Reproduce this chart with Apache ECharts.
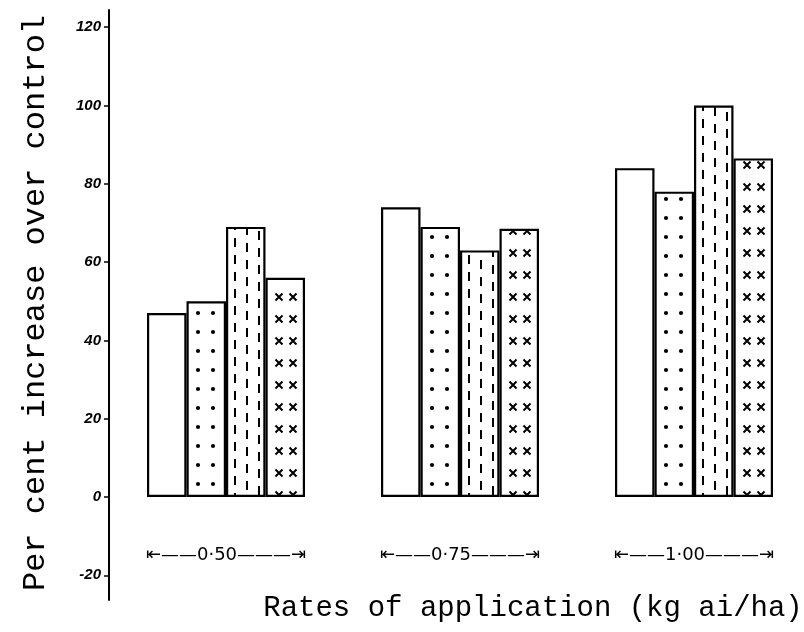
<!DOCTYPE html>
<html><head><meta charset="utf-8">
<script src="https://cdn.jsdelivr.net/npm/echarts@6/dist/echarts.min.js"></script>
<style>html,body{margin:0;padding:0;background:#fff}#c{width:804px;height:632px}</style>
</head><body><div id="c"></div>
<script>
// ---- data ----
var rates = ['0·50', '0·75', '1·00'];
var seriesA = [47, 74, 84];
var seriesB = [50, 69, 78];
var seriesC = [69, 63, 100];
var seriesD = [56, 68.5, 86.5];
var yTicks = [-20, 0, 20, 40, 60, 80, 100, 120];

// ---- fill patterns (tile width = category width so marks sit inside each bar) ----
function tile(w, h, draw) {
  var cv = document.createElement('canvas');
  cv.width = w; cv.height = h;
  var ctx = cv.getContext('2d');
  ctx.fillStyle = '#fff'; ctx.fillRect(0, 0, w, h);
  ctx.fillStyle = '#000'; ctx.strokeStyle = '#000';
  draw(ctx);
  return { image: cv, repeat: 'repeat' };
}
var TW = 234;
var dots = tile(TW, 19, function (c) {
  [198, 213].forEach(function (x) { c.beginPath(); c.arc(x, 9, 2.1, 0, Math.PI * 2); c.fill(); });
});
var dashes = tile(TW, 17, function (c) {
  c.lineWidth = 2;
  [235, 247, 259].forEach(function (x, i) {
    var xx = x % TW;
    var o = i * 5;
    c.beginPath(); c.moveTo(xx, o); c.lineTo(xx, o + 9); c.stroke();
    if (o + 9 > 17) { c.beginPath(); c.moveTo(xx, 0); c.lineTo(xx, o + 9 - 17); c.stroke(); }
  });
});
var crosses = tile(TW, 22, function (c) {
  c.lineWidth = 2;
  [279, 293].forEach(function (x) {
    var xx = x % TW;
    c.beginPath();
    c.moveTo(xx - 3.5, 7.5); c.lineTo(xx + 3.5, 14.5);
    c.moveTo(xx + 3.5, 7.5); c.lineTo(xx - 3.5, 14.5);
    c.stroke();
  });
});

function bar(name, data, fill) {
  return {
    name: name, type: 'bar', data: data,
    barWidth: 39.5, barGap: '0%',
    itemStyle: { color: fill, borderColor: '#000', borderWidth: 2.2 }
  };
}

var chart = echarts.init(document.getElementById('c'), null, { renderer: 'canvas' });
chart.setOption({
  animation: false,
  backgroundColor: '#fff',
  grid: { left: 109, top: 10, right: -7, bottom: 32, outerBoundsMode: 'none' },
  xAxis: {
    type: 'category', data: rates, position: 'bottom', offset: -103,
    axisLine: { show: false, onZero: false },
    axisTick: { show: false },
    axisLabel: {
      show: true, margin: 49, color: '#000', fontFamily: 'DejaVu Sans', fontSize: 18,
      formatter: function (v) { return '⇤——' + v + '———⇥'; }
    },
    name: 'Rates of application (kg ai/ha)',
    nameLocation: 'middle', nameGap: 97,
    nameTextStyle: { fontFamily: 'Liberation Mono', fontSize: 29, color: '#000', padding: [0, 0, 0, 146] }
  },
  yAxis: {
    type: 'value', min: -26.3, max: 124.4,
    axisLine: { show: true, lineStyle: { color: '#000', width: 2 } },
    axisTick: { show: true, length: 5, lineStyle: { color: '#000', width: 1.5 }, customValues: yTicks },
    axisLabel: { color: '#000', fontFamily: 'Liberation Sans', fontStyle: 'italic', fontWeight: 'bold', fontSize: 15, margin: 8, customValues: yTicks },
    splitLine: { show: false },
    name: 'Per cent increase over control',
    nameLocation: 'middle', nameGap: 57,
    nameTextStyle: { fontFamily: 'Liberation Mono', fontSize: 32, color: '#000', padding: [0, 0, 0, 4] }
  },
  series: [
    bar('A', seriesA, '#fff'),
    bar('B', seriesB, dots),
    bar('C', seriesC, dashes),
    bar('D', seriesD, crosses)
  ]
});
</script></body></html>
